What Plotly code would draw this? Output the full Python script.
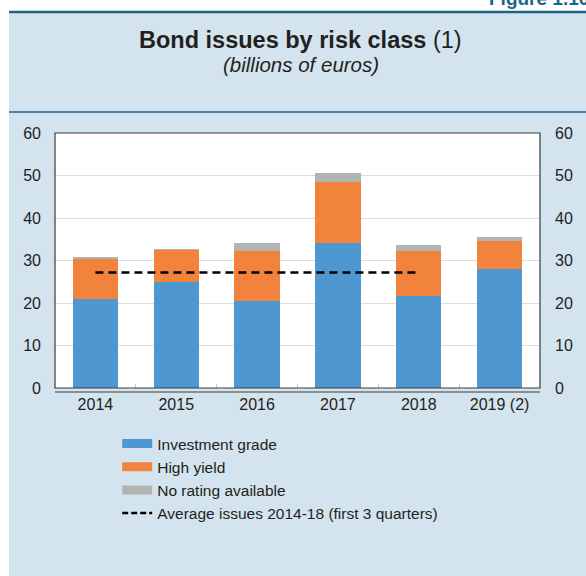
import plotly.graph_objects as go

# Bond issues by risk class, billions of euros
years = ["2014", "2015", "2016", "2017", "2018", "2019 (2)"]
investment_grade = [20.9, 25.0, 20.4, 34.1, 21.6, 27.9]
high_yield = [9.5, 7.6, 11.9, 14.3, 10.7, 6.7]
no_rating = [0.4, 0.1, 1.8, 2.2, 1.3, 0.9]
avg_years = ["2014", "2018"]
avg_value = [27.2, 27.2]
y_ticks = [0, 10, 20, 30, 40, 50, 60]

BLUE = "#4f97d1"
ORANGE = "#f2833d"
GREY = "#b2b4b4"
PANEL = "#d3e4ee"
TEAL = "#1d6586"
TEXT = "#231f20"
FONT = "Liberation Sans, Arial, sans-serif"

fig = go.Figure()

for name, vals, col in [
    ("Investment grade", investment_grade, BLUE),
    ("High yield", high_yield, ORANGE),
    ("No rating available", no_rating, GREY),
]:
    fig.add_trace(go.Bar(x=years, y=vals, name=name, marker=dict(color=col, line=dict(width=0)),
                         width=0.56, showlegend=False))

fig.add_trace(go.Scatter(x=avg_years, y=avg_value, mode="lines", showlegend=False,
                         line=dict(color="black", width=2.5, dash="8px,5px")))

# legend entries with wide swatches
for name, col in [("Investment grade", BLUE), ("High yield", ORANGE), ("No rating available", GREY)]:
    fig.add_trace(go.Scatter(x=[None], y=[None], mode="lines", name=name,
                             line=dict(color=col, width=9)))
fig.add_trace(go.Scatter(x=[None], y=[None], mode="lines", name="Average issues 2014-18 (first 3 quarters)",
                         line=dict(color="black", width=2.5, dash="6px,3px")))

# mirrored right-hand axis
fig.add_trace(go.Scatter(x=years, y=[None] * len(years), yaxis="y2", showlegend=False, hoverinfo="skip"))

fig.update_layout(
    width=586, height=576,
    margin=dict(l=55, r=46, t=133, b=188, autoexpand=False),
    paper_bgcolor="white",
    plot_bgcolor="white",
    barmode="stack",
    font=dict(family=FONT, color=TEXT, size=16),
    xaxis=dict(type="category", tickson="boundaries", ticks="inside", ticklen=4, tickcolor="#c8c8c8",
               showgrid=False, showline=False, zeroline=False, tickfont=dict(size=16), ticklabelstandoff=5,
               tickangle=0, automargin=False),
    yaxis=dict(range=[0, 60], tickvals=y_ticks, showgrid=True, gridcolor="#dcdcdc", gridwidth=1,
               zeroline=False, showline=False, ticks="", tickfont=dict(size=16), ticklabelstandoff=13,
               automargin=False),
    yaxis2=dict(range=[0, 60], tickvals=y_ticks, overlaying="y", side="right", showgrid=False,
                zeroline=False, showline=False, ticks="", tickfont=dict(size=16), ticklabelstandoff=14,
                automargin=False),
    legend=dict(xref="container", yref="container", x=0.2, y=1 - 427 / 576, xanchor="left", yanchor="top",
                bgcolor="rgba(0,0,0,0)", font=dict(size=15.5, color=TEXT), tracegroupgap=0, itemwidth=30,
                traceorder="normal"),
    showlegend=True,
)

shapes = [
    # light blue panel
    dict(type="rect", xref="paper", yref="paper", layer="below",
         x0=-46 / 485, x1=(586 - 55) / 485 + 0.02, y0=-188 / 255, y1=(576 - 12 - 188) / 255,
         fillcolor=PANEL, line=dict(width=0)),
    # white plot area
    dict(type="rect", xref="paper", yref="paper", layer="below", x0=0, x1=1, y0=0, y1=1,
         fillcolor="white", line=dict(width=0)),
    # frame
    dict(type="rect", xref="paper", yref="paper", layer="above", x0=0, x1=1, y0=0, y1=1,
         line=dict(color="#3a3a3a", width=1.2)),
    # second base line under the frame
    dict(type="line", xref="paper", yref="paper", x0=0, x1=1, y0=-4 / 255, y1=-4 / 255,
         line=dict(color="#3a3a3a", width=1.2)),
    # header rules
    dict(type="line", xref="paper", yref="paper", x0=-46 / 485, x1=(586 - 55) / 485 + 0.02,
         y0=(576 - 12 - 188) / 255, y1=(576 - 12 - 188) / 255, line=dict(color=TEAL, width=2.5)),
    dict(type="line", xref="paper", yref="paper", x0=-46 / 485, x1=(586 - 55) / 485 + 0.02,
         y0=(576 - 112 - 188) / 255, y1=(576 - 112 - 188) / 255, line=dict(color=TEAL, width=1.5)),
]
fig.update_layout(shapes=shapes)

fig.add_annotation(xref="paper", yref="paper", x=(300 - 55) / 485, y=(576 - 40 - 188) / 255,
                   text="<b>Bond issues by risk class</b> (1)", showarrow=False,
                   font=dict(size=23.5, color=TEXT, family=FONT), xanchor="center", yanchor="middle")
fig.add_annotation(xref="paper", yref="paper", x=(301 - 55) / 485, y=(576 - 64 - 188) / 255,
                   text="<i>(billions of euros)</i>", showarrow=False,
                   font=dict(size=20.5, color=TEXT, family=FONT), xanchor="center", yanchor="middle")
fig.add_annotation(xref="paper", yref="paper", x=(586 - 55) / 485 + 0.01, y=(576 + 2 - 188) / 255,
                   text="<b>Figure 1.10</b>", showarrow=False,
                   font=dict(size=19, color=TEAL, family=FONT), xanchor="right", yanchor="middle")

fig.write_html("out.html")
